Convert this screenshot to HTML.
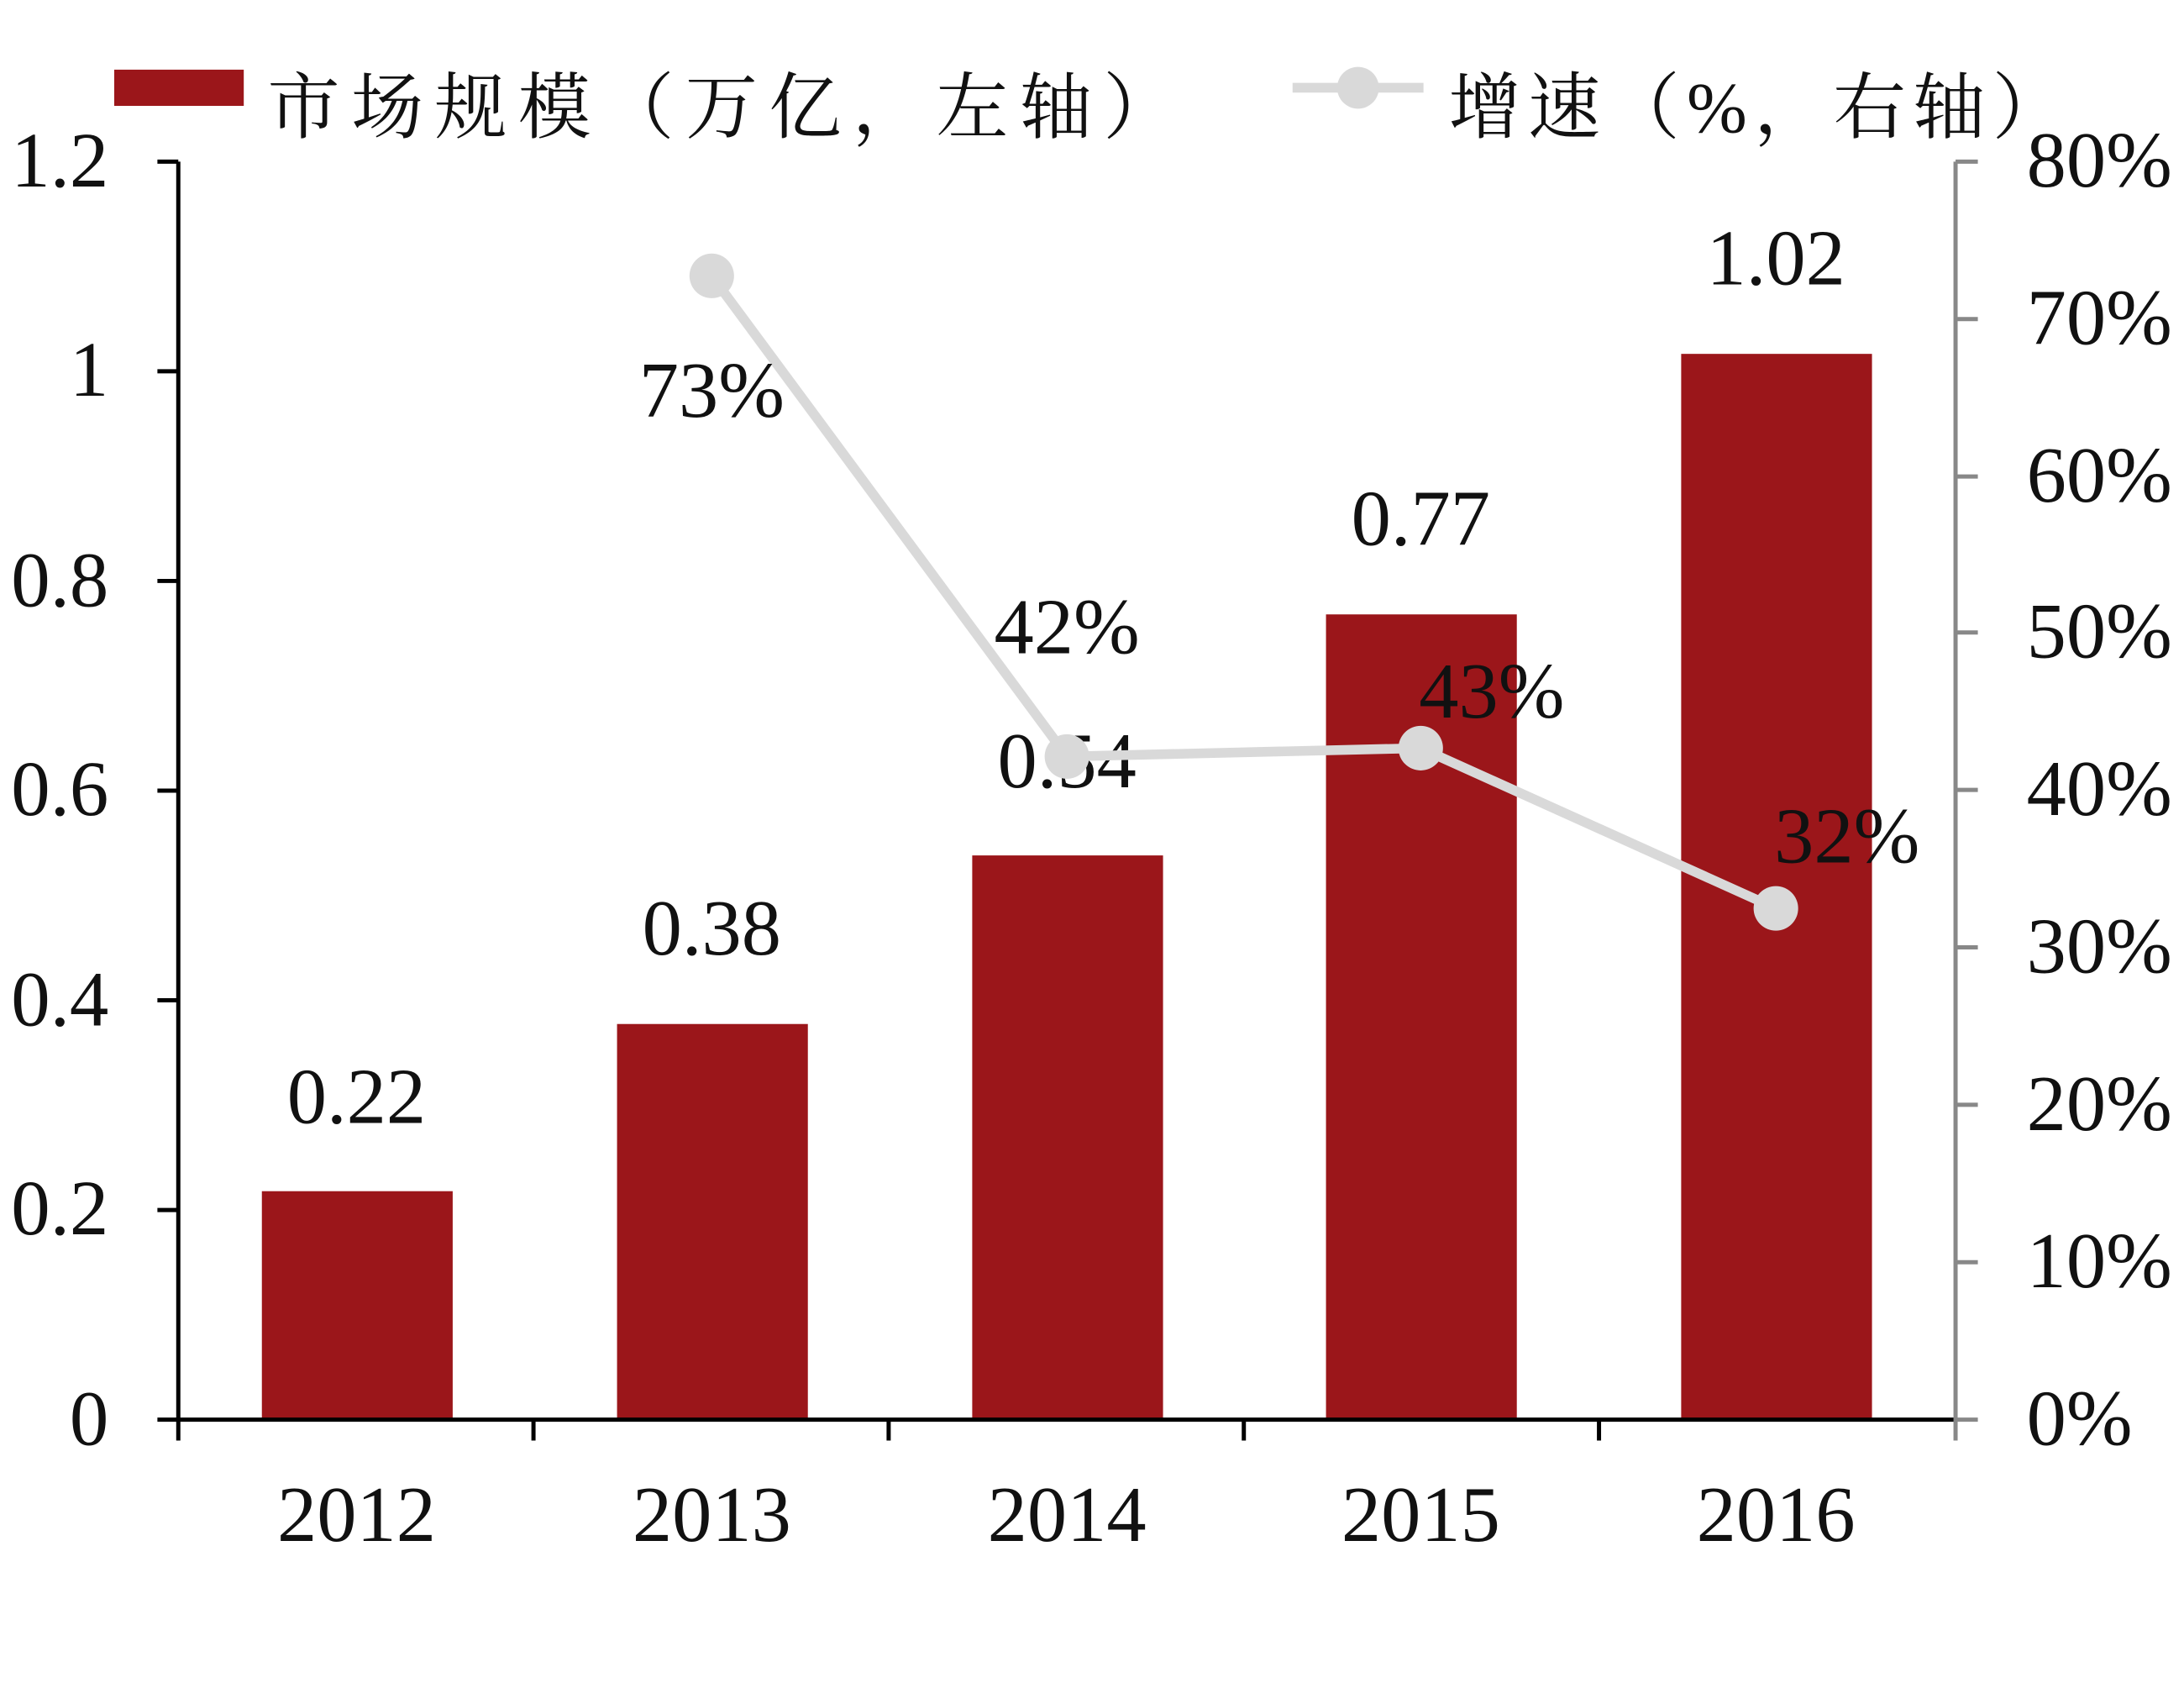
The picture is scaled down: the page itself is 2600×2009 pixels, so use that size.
<!DOCTYPE html>
<html><head><meta charset="utf-8"><style>html,body{margin:0;padding:0;background:#fff}svg{display:block}</style></head>
<body>
<svg width="2600" height="2009" viewBox="0 0 1568 1211.6" xmlns="http://www.w3.org/2000/svg" font-family="'Liberation Serif','Noto Serif CJK SC',serif">
<rect width="1568" height="1212" fill="#fff"/>
<g fill="#9b161a">
<rect x="188" y="855" width="137" height="164"/>
<rect x="443" y="735" width="137" height="284"/>
<rect x="698" y="614" width="137" height="405"/>
<rect x="952" y="441" width="137" height="578"/>
<rect x="1207" y="254" width="137" height="765"/>
</g>
<g stroke="#000" stroke-width="3">
<line x1="128" y1="116" x2="128" y2="1034"/>
<line x1="128" y1="1019" x2="1404" y2="1019"/>
<line x1="113" y1="116" x2="128" y2="116"/>
<line x1="113" y1="266.5" x2="128" y2="266.5"/>
<line x1="113" y1="417" x2="128" y2="417"/>
<line x1="113" y1="567.5" x2="128" y2="567.5"/>
<line x1="113" y1="718" x2="128" y2="718"/>
<line x1="113" y1="868.5" x2="128" y2="868.5"/>
<line x1="113" y1="1019" x2="128" y2="1019"/>
<line x1="383" y1="1019" x2="383" y2="1034"/>
<line x1="638" y1="1019" x2="638" y2="1034"/>
<line x1="893" y1="1019" x2="893" y2="1034"/>
<line x1="1148" y1="1019" x2="1148" y2="1034"/>
</g>
<g stroke="#888" stroke-width="3">
<line x1="1404" y1="116" x2="1404" y2="1034"/>
<line x1="1404" y1="116" x2="1420" y2="116"/>
<line x1="1404" y1="229" x2="1420" y2="229"/>
<line x1="1404" y1="342" x2="1420" y2="342"/>
<line x1="1404" y1="454" x2="1420" y2="454"/>
<line x1="1404" y1="567" x2="1420" y2="567"/>
<line x1="1404" y1="680" x2="1420" y2="680"/>
<line x1="1404" y1="793" x2="1420" y2="793"/>
<line x1="1404" y1="906" x2="1420" y2="906"/>
<line x1="1404" y1="1019" x2="1420" y2="1019"/>
</g>
<g font-size="56" text-anchor="end" fill="#111">
<text x="78" y="134">1.2</text>
<text x="78" y="284">1</text>
<text x="78" y="435">0.8</text>
<text x="78" y="585">0.6</text>
<text x="78" y="736">0.4</text>
<text x="78" y="886">0.2</text>
<text x="78" y="1037">0</text>
</g>
<g font-size="57" text-anchor="start" fill="#111">
<text x="1455" y="134">80%</text>
<text x="1455" y="247">70%</text>
<text x="1455" y="360">60%</text>
<text x="1455" y="472">50%</text>
<text x="1455" y="585">40%</text>
<text x="1455" y="698">30%</text>
<text x="1455" y="811">20%</text>
<text x="1455" y="924">10%</text>
<text x="1455" y="1037">0%</text>
</g>
<g font-size="57" text-anchor="middle" fill="#111">
<text x="256" y="1106">2012</text>
<text x="511" y="1106">2013</text>
<text x="766" y="1106">2014</text>
<text x="1020" y="1106">2015</text>
<text x="1275" y="1106">2016</text>
<text x="256" y="806">0.22</text>
<text x="511" y="685">0.38</text>
<text x="766" y="565">0.54</text>
<text x="1020" y="391">0.77</text>
<text x="1275" y="204">1.02</text>
</g>
<polyline points="511,198 766,543 1020,537 1275,652" fill="none" stroke="#d9d9d9" stroke-width="7"/>
<g fill="#d9d9d9">
<circle cx="511" cy="198" r="16"/><circle cx="766" cy="543" r="16"/><circle cx="1020" cy="537" r="16"/><circle cx="1275" cy="652" r="16"/>
</g>
<g font-size="57" text-anchor="middle" fill="#111">
<text x="511" y="299">73%</text>
<text x="766" y="469">42%</text>
<text x="1071" y="515">43%</text>
<text x="1326" y="619">32%</text>
</g>
<rect x="82" y="50" width="93" height="26" fill="#9b161a"/>
<text x="192" y="95" font-size="52" letter-spacing="8" fill="#111">市场规模（万亿，左轴）</text>
<line x1="928" y1="63" x2="1022" y2="63" stroke="#d9d9d9" stroke-width="7"/>
<circle cx="975" cy="63" r="15" fill="#d9d9d9"/>
<text x="1040" y="95" font-size="52" letter-spacing="5" fill="#111">增速（%，右轴）</text>
</svg>
</body></html>
